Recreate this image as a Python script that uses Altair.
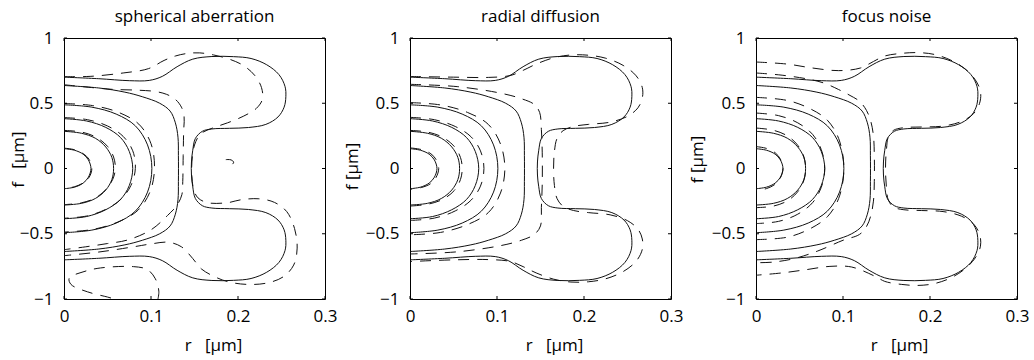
import altair as alt
import pandas as pd

FONT = "Open Sans"
NB = "\u00a0"
PANEL_TITLES = ["spherical aberration", "radial diffusion", "focus noise"]
Y_TITLES = ["f" + NB * 3 + "[µm]", "f" + NB + "[µm]", "f" + NB + "[µm]"]
X_TITLE = "r" + NB * 3 + "[µm]"
X_TICKS = [0, 0.1, 0.2, 0.3]
Y_TICKS = [-1, -0.5, 0, 0.5, 1]

# ---- solid contours (same in every panel), points (r, f) ----
S1 = [(0, 0.152), (0.012, 0.140), (0.022, 0.110), (0.028, 0.066), (0.031, 0.0), (0.028, -0.067),
      (0.022, -0.112), (0.012, -0.143), (0, -0.155)]
S2 = [(0, 0.285), (0.020, 0.270), (0.036, 0.232), (0.048, 0.165), (0.055, 0.085), (0.057, 0.0),
      (0.055, -0.085), (0.048, -0.165), (0.036, -0.230), (0.020, -0.267), (0, -0.280)]
S3 = [(0, 0.382), (0.026, 0.364), (0.048, 0.315), (0.065, 0.237), (0.075, 0.131), (0.079, 0.0),
      (0.075, -0.131), (0.065, -0.237), (0.048, -0.316), (0.026, -0.368), (0, -0.385)]
S4 = [(0, 0.488), (0.032, 0.470), (0.060, 0.417), (0.082, 0.327), (0.096, 0.181), (0.101, 0.0),
      (0.096, -0.181), (0.082, -0.327), (0.060, -0.418), (0.032, -0.472), (0, -0.492)]
S5 = [(0, 0.636), (0.040, 0.617), (0.070, 0.585), (0.090, 0.550), (0.110, 0.500), (0.122, 0.440),
      (0.128, 0.350), (0.131, 0.240), (0.1315, 0.100), (0.1315, -0.100), (0.131, -0.240),
      (0.128, -0.350), (0.122, -0.440), (0.110, -0.500), (0.090, -0.550), (0.070, -0.585),
      (0.040, -0.617), (0, -0.636)]
S6 = [(0, 0.700), (0.040, 0.688), (0.075, 0.673), (0.098, 0.675), (0.113, 0.706), (0.130, 0.780),
      (0.148, 0.838), (0.170, 0.858), (0.195, 0.857), (0.215, 0.843), (0.233, 0.795), (0.247, 0.720),
      (0.254, 0.630), (0.255, 0.550), (0.253, 0.470), (0.246, 0.395), (0.232, 0.338), (0.212, 0.314),
      (0.190, 0.308), (0.170, 0.303), (0.159, 0.285), (0.151, 0.230), (0.148, 0.140), (0.1465, 0.050),
      (0.1465, -0.050), (0.148, -0.140), (0.151, -0.230), (0.159, -0.285), (0.170, -0.303),
      (0.190, -0.308), (0.212, -0.314), (0.232, -0.338), (0.246, -0.395), (0.253, -0.470),
      (0.255, -0.550), (0.254, -0.630), (0.247, -0.720), (0.233, -0.795), (0.215, -0.843),
      (0.195, -0.857), (0.170, -0.858), (0.148, -0.838), (0.130, -0.780), (0.113, -0.706),
      (0.098, -0.675), (0.075, -0.673), (0.040, -0.688), (0, -0.700)]

# ---- dashed contours, panel 1: spherical aberration ----
P1_D1 = [(0, 0.156), (0.012, 0.144), (0.022, 0.114), (0.029, 0.068), (0.032, 0.0), (0.029, -0.066),
         (0.022, -0.110), (0.012, -0.140), (0, -0.152)]
P1_D2 = [(0, 0.292), (0.021, 0.278), (0.037, 0.239), (0.050, 0.170), (0.057, 0.088), (0.059, 0.0),
         (0.056, -0.083), (0.048, -0.162), (0.036, -0.226), (0.020, -0.263), (0, -0.277)]
P1_D3 = [(0, 0.390), (0.027, 0.374), (0.050, 0.326), (0.068, 0.246), (0.079, 0.136), (0.082, 0.0),
         (0.077, -0.129), (0.066, -0.232), (0.049, -0.310), (0.026, -0.364), (0, -0.381)]
P1_D4 = [(0, 0.498), (0.033, 0.482), (0.062, 0.432), (0.086, 0.340), (0.100, 0.190), (0.104, 0.0),
         (0.099, -0.176), (0.085, -0.320), (0.062, -0.410), (0.033, -0.467), (0, -0.487)]
P1_D5 = [(0, 0.642), (0.037, 0.617), (0.057, 0.606), (0.085, 0.600), (0.105, 0.590), (0.118, 0.568),
         (0.128, 0.530), (0.135, 0.470), (0.138, 0.400), (0.1375, 0.280), (0.137, 0.100),
         (0.1365, -0.100), (0.1355, -0.200), (0.130, -0.280), (0.119, -0.360), (0.100, -0.470),
         (0.073, -0.548), (0.050, -0.575), (0.025, -0.600), (0, -0.622)]
P1_D6 = [(0, 0.704), (0.030, 0.706), (0.068, 0.732), (0.097, 0.765), (0.115, 0.828), (0.128, 0.862),
         (0.142, 0.882), (0.156, 0.886), (0.172, 0.870), (0.190, 0.838), (0.206, 0.790), (0.219, 0.715),
         (0.227, 0.620), (0.228, 0.530), (0.221, 0.460), (0.206, 0.400), (0.188, 0.350), (0.170, 0.308),
         (0.157, 0.265), (0.150, 0.180), (0.147, 0.050), (0.147, -0.060), (0.149, -0.160),
         (0.154, -0.225), (0.165, -0.262), (0.188, -0.262), (0.203, -0.240), (0.224, -0.232),
         (0.242, -0.260), (0.256, -0.330), (0.265, -0.460), (0.268, -0.610), (0.264, -0.740),
         (0.252, -0.830), (0.233, -0.878), (0.210, -0.888), (0.190, -0.870), (0.175, -0.835),
         (0.158, -0.770), (0.148, -0.690), (0.135, -0.600), (0.120, -0.565), (0.100, -0.578),
         (0.080, -0.600), (0.040, -0.640), (0, -0.668)]
P1_D7 = [(0.108, -1.0), (0.109, -0.940), (0.105, -0.845), (0.096, -0.775), (0.080, -0.752),
         (0.042, -0.762), (0.023, -0.790), (0.006, -0.840), (0.008, -0.888), (0.027, -0.945),
         (0.050, -0.985), (0.058, -1.0)]
P1_D8 = [(0.186, 0.068), (0.192, 0.066), (0.195, 0.048), (0.192, 0.025), (0.186, 0.018)]

# ---- dashed contours, panel 2: radial diffusion ----
P2_D1 = [(0, 0.158), (0.013, 0.145), (0.024, 0.113), (0.030, 0.068), (0.033, 0.0), (0.030, -0.068),
         (0.024, -0.115), (0.013, -0.146), (0, -0.160)]
P2_D2 = [(0, 0.292), (0.021, 0.278), (0.038, 0.238), (0.051, 0.168), (0.058, 0.085), (0.060, 0.0),
         (0.058, -0.085), (0.051, -0.168), (0.038, -0.235), (0.021, -0.273), (0, -0.288)]
P2_D3 = [(0, 0.392), (0.028, 0.374), (0.052, 0.322), (0.070, 0.244), (0.081, 0.135), (0.085, 0.0),
         (0.081, -0.135), (0.070, -0.244), (0.052, -0.325), (0.028, -0.380), (0, -0.398)]
P2_D4 = [(0, 0.505), (0.035, 0.487), (0.066, 0.430), (0.090, 0.338), (0.104, 0.188), (0.109, 0.0),
         (0.104, -0.188), (0.090, -0.338), (0.066, -0.430), (0.035, -0.490), (0, -0.508)]
P2_D5 = [(0, 0.645), (0.055, 0.627), (0.105, 0.576), (0.128, 0.535), (0.143, 0.490), (0.149, 0.430),
         (0.151, 0.300), (0.152, 0.120), (0.152, -0.120), (0.151, -0.300), (0.150, -0.440),
         (0.143, -0.505), (0.128, -0.550), (0.105, -0.590), (0.055, -0.638), (0, -0.655)]
P2_D6 = [(0, 0.705), (0.050, 0.700), (0.090, 0.698), (0.115, 0.712), (0.130, 0.752), (0.145, 0.800),
         (0.165, 0.848), (0.185, 0.870), (0.205, 0.868), (0.225, 0.845), (0.245, 0.790), (0.260, 0.710),
         (0.267, 0.620), (0.267, 0.540), (0.262, 0.465), (0.250, 0.400), (0.230, 0.355), (0.205, 0.338),
         (0.188, 0.322), (0.176, 0.290), (0.169, 0.230), (0.166, 0.130), (0.165, 0.0), (0.166, -0.130),
         (0.169, -0.230), (0.176, -0.290), (0.188, -0.322), (0.205, -0.338), (0.230, -0.355),
         (0.250, -0.400), (0.262, -0.465), (0.267, -0.540), (0.267, -0.620), (0.260, -0.710),
         (0.245, -0.790), (0.225, -0.845), (0.205, -0.868), (0.185, -0.870), (0.165, -0.848),
         (0.145, -0.800), (0.130, -0.752), (0.115, -0.712), (0.090, -0.698), (0.050, -0.700),
         (0, -0.713)]

# ---- dashed contours, panel 3: focus noise ----
P3_D1 = [(0, 0.168), (0.012, 0.154), (0.022, 0.121), (0.028, 0.072), (0.031, 0.0), (0.028, -0.072),
         (0.022, -0.121), (0.012, -0.154), (0, -0.168)]
P3_D2 = [(0, 0.310), (0.020, 0.293), (0.036, 0.250), (0.048, 0.178), (0.055, 0.091), (0.057, 0.0),
         (0.055, -0.091), (0.048, -0.178), (0.036, -0.248), (0.020, -0.288), (0, -0.300)]
P3_D3 = [(0, 0.425), (0.026, 0.405), (0.048, 0.350), (0.065, 0.262), (0.075, 0.145), (0.079, 0.0),
         (0.075, -0.145), (0.065, -0.262), (0.048, -0.350), (0.026, -0.405), (0, -0.422)]
P3_D4 = [(0, 0.545), (0.037, 0.520), (0.064, 0.452), (0.082, 0.370), (0.095, 0.230), (0.101, 0.0),
         (0.095, -0.230), (0.082, -0.370), (0.064, -0.455), (0.037, -0.525), (0, -0.545)]
P3_D5 = [(0, 0.732), (0.030, 0.715), (0.060, 0.685), (0.078, 0.655), (0.095, 0.605), (0.108, 0.560),
         (0.119, 0.515), (0.127, 0.445), (0.132, 0.360), (0.135, 0.250), (0.136, 0.100),
         (0.136, -0.100), (0.135, -0.250), (0.132, -0.360), (0.127, -0.445), (0.119, -0.505),
         (0.100, -0.550), (0.071, -0.632), (0.044, -0.690), (0.020, -0.717), (0, -0.722)]
P3_D6 = [(0, 0.816), (0.036, 0.800), (0.065, 0.770), (0.095, 0.750), (0.120, 0.770), (0.135, 0.820),
         (0.148, 0.862), (0.167, 0.882), (0.186, 0.888), (0.205, 0.874), (0.224, 0.830), (0.240, 0.765),
         (0.252, 0.680), (0.258, 0.590), (0.257, 0.500), (0.250, 0.420), (0.236, 0.360), (0.215, 0.325),
         (0.190, 0.318), (0.170, 0.313), (0.158, 0.292), (0.152, 0.240), (0.150, 0.150), (0.149, 0.050),
         (0.149, -0.050), (0.150, -0.150), (0.152, -0.240), (0.158, -0.295), (0.170, -0.316),
         (0.190, -0.322), (0.215, -0.330), (0.236, -0.365), (0.250, -0.425), (0.257, -0.505),
         (0.258, -0.595), (0.252, -0.685), (0.240, -0.770), (0.224, -0.838), (0.205, -0.882),
         (0.186, -0.896), (0.167, -0.888), (0.148, -0.865), (0.138, -0.830), (0.110, -0.755),
         (0.085, -0.750), (0.058, -0.775), (0.030, -0.800), (0, -0.818)]

SOLID = [S1, S2, S3, S4, S5, S6]
DASHED = [
    [P1_D1, P1_D2, P1_D3, P1_D4, P1_D5, P1_D6, P1_D7, P1_D8],
    [P2_D1, P2_D2, P2_D3, P2_D4, P2_D5, P2_D6],
    [P3_D1, P3_D2, P3_D3, P3_D4, P3_D5, P3_D6],
]

# ---- layout / style ----
W, H = 261, 261
TICK = 3
SPACING = 85
X_TITLE_X = [149, 144, 143]
Y_TITLE_X = [-41, -53, -54]
Y_TITLE_Y = [121, 128, 121]
LINE_COLOR = "#111111"
DASH = [11, 8]


def curves_df(curves, prefix):
    rows = []
    for k, pts in enumerate(curves):
        for i, (r, f) in enumerate(pts):
            rows.append({"cid": f"{prefix}{k}", "i": i, "r": r, "f": f})
    return pd.DataFrame(rows)


def make_panel(p):
    xs = alt.Scale(domain=[0, 0.3], nice=False, zero=False)
    ys = alt.Scale(domain=[-1, 1], nice=False, zero=False)
    xax = alt.Axis(values=X_TICKS, format="~g", title=X_TITLE, titleX=X_TITLE_X[p], titleY=51,
                   titleBaseline="alphabetic", titleAlign="center", labelFlush=False,
                   labelOverlap=False, labelPadding=9)
    yax = alt.Axis(values=Y_TICKS, format="~g", title=Y_TITLES[p], titleX=Y_TITLE_X[p],
                   titleY=Y_TITLE_Y[p], titleAngle=270, titleBaseline="alphabetic",
                   titleAlign="center", labelFlush=False, labelOverlap=False, labelPadding=11)
    enc_x = alt.X("r:Q", scale=xs, axis=xax, title=X_TITLE)
    enc_y = alt.Y("f:Q", scale=ys, axis=yax, title=Y_TITLES[p])
    solid = alt.Chart(curves_df(SOLID, "s")).mark_line(
        color=LINE_COLOR, strokeWidth=1, interpolate="catmull-rom", clip=True
    ).encode(x=enc_x, y=enc_y, detail="cid:N", order="i:Q")
    dashed = alt.Chart(curves_df(DASHED[p], "d")).mark_line(
        color=LINE_COLOR, strokeWidth=1, interpolate="catmull-rom", clip=True, strokeDash=DASH
    ).encode(x=enc_x, y=enc_y, detail="cid:N", order="i:Q")
    tx = pd.DataFrame({"r": X_TICKS})
    ty = pd.DataFrame({"f": Y_TICKS})
    rule = dict(color="black", strokeWidth=1)
    tb = alt.Chart(tx).mark_rule(**rule).encode(x=enc_x, y=alt.value(H), y2=alt.value(H - TICK))
    tt = alt.Chart(tx).mark_rule(**rule).encode(x=enc_x, y=alt.value(0), y2=alt.value(TICK))
    tl = alt.Chart(ty).mark_rule(**rule).encode(y=enc_y, x=alt.value(0), x2=alt.value(TICK))
    tr = alt.Chart(ty).mark_rule(**rule).encode(y=enc_y, x=alt.value(W), x2=alt.value(W - TICK))
    return alt.layer(solid, dashed, tb, tt, tl, tr).properties(
        width=W, height=H,
        title=alt.TitleParams(text=PANEL_TITLES[p], font=FONT, fontSize=17, fontWeight="normal",
                              color="black", offset=-10, baseline="alphabetic", frame="group",
                              anchor="middle"),
    )


chart = alt.hconcat(*[make_panel(p) for p in range(3)], spacing=SPACING, bounds="flush").properties(
    padding={"left": 8, "top": 7, "right": 4, "bottom": 4}, background="white"
).configure_view(stroke="black", strokeWidth=1).configure_axis(
    labelFont=FONT, labelFontSize=17, labelColor="black", titleFont=FONT, titleFontSize=17,
    titleFontWeight="normal", titleColor="black", domain=False, ticks=False, grid=False
)

chart.save("out.html", embed_options={"renderer": "svg", "actions": False})
